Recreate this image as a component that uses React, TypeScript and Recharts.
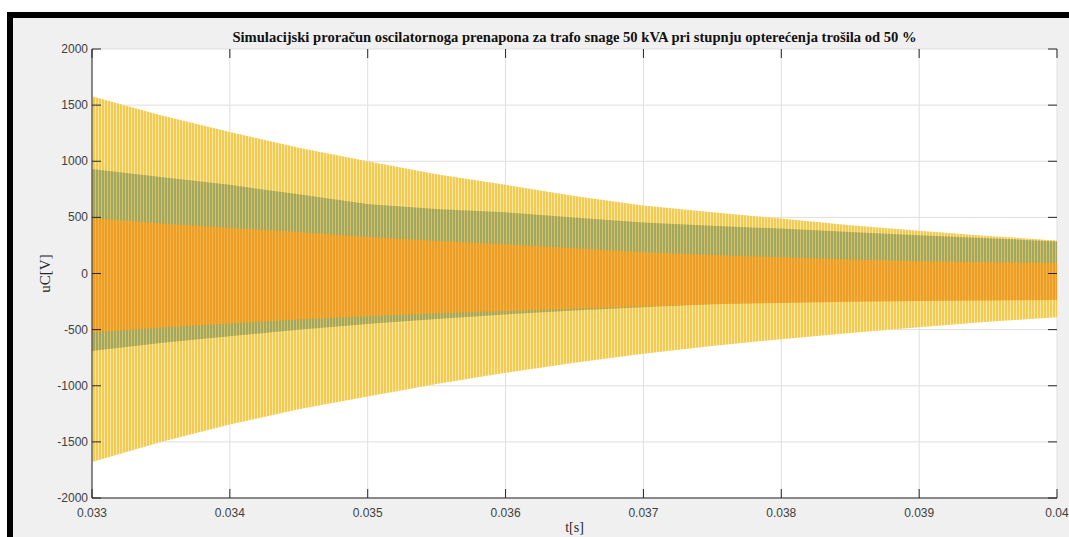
import React from "react";
import { ComposedChart, Area, XAxis, YAxis, CartesianGrid } from "recharts";

const times = [0.033, 0.0335, 0.034, 0.0345, 0.035, 0.0355, 0.036, 0.0365, 0.037, 0.0375, 0.038, 0.0385, 0.039, 0.0395, 0.04];
const yellowHigh = [1580, 1410, 1260, 1120, 1000, 885, 790, 690, 605, 545, 490, 430, 380, 335, 295];
const yellowLow = [-1680, -1500, -1345, -1210, -1095, -985, -885, -795, -715, -645, -585, -530, -478, -430, -390];
const greenHigh = [930, 860, 790, 705, 620, 575, 545, 500, 455, 425, 400, 370, 340, 315, 285];
const greenLow = [-690, -620, -560, -500, -450, -405, -365, -330, -300, -272, -250, -230, -210, -195, -180];
const orangeHigh = [495, 445, 405, 370, 325, 290, 260, 225, 190, 165, 145, 125, 110, 100, 93];
const orangeLow = [-525, -480, -445, -410, -380, -355, -335, -315, -295, -275, -262, -252, -245, -240, -237];

const xTicks = [0.033, 0.034, 0.035, 0.036, 0.037, 0.038, 0.039, 0.04];
const xTickLabels = ["0.033", "0.034", "0.035", "0.036", "0.037", "0.038", "0.039", "0.04"];
const yTicks = [-2000, -1500, -1000, -500, 0, 500, 1000, 1500, 2000];
const yTickLabels = ["-2000", "-1500", "-1000", "-500", "0", "500", "1000", "1500", "2000"];

const title = "Simulacijski proračun oscilatornoga prenapona za trafo snage 50 kVA pri stupnju opterećenja trošila od 50 %";
const xLabel = "t[s]";
const yLabel = "uC[V]";

const data = times.map((t, i) => ({
  t,
  yellow: [yellowLow[i], yellowHigh[i]],
  green: [greenLow[i], greenHigh[i]],
  orange: [orangeLow[i], orangeHigh[i]],
}));

// plot-box geometry (layout)
const W = 1069;
const H = 537;
const PL = 92;
const PR = 1057;
const PT = 49;
const PB = 498;
const TICK = 9;

const AX = "#262626";
const tickFont = { fontFamily: "'Liberation Sans', Arial, sans-serif", fontSize: 12, fill: "#404040" };

const BottomTick = (props: any) => {
  const { x, payload } = props;
  const i = xTicks.indexOf(payload.value);
  return (
    <g>
      <line x1={x} y1={PB} x2={x} y2={PB - TICK} stroke={AX} strokeWidth={1} />
      <line x1={x} y1={PT} x2={x} y2={PT + TICK} stroke={AX} strokeWidth={1} />
      <text x={x} y={PB + 19} textAnchor="middle" {...tickFont}>
        {i >= 0 ? xTickLabels[i] : String(payload.value)}
      </text>
    </g>
  );
};

const LeftTick = (props: any) => {
  const { y, payload } = props;
  const i = yTicks.indexOf(payload.value);
  return (
    <g>
      <line x1={PL} y1={y} x2={PL + TICK} y2={y} stroke={AX} strokeWidth={1} />
      <line x1={PR} y1={y} x2={PR - TICK} y2={y} stroke={AX} strokeWidth={1} />
      <text x={PL - 4} y={y + 4} textAnchor="end" {...tickFont}>
        {i >= 0 ? yTickLabels[i] : String(payload.value)}
      </text>
    </g>
  );
};

export default function App() {
  return (
    <div style={{ position: "absolute", left: 0, top: 0, width: W, height: H, background: "#fff", overflow: "hidden" }}>
      <div
        style={{
          position: "absolute",
          left: 7,
          top: 12,
          right: -10,
          bottom: -10,
          background: "#f0f0f0",
          borderTop: "6px solid #000",
          borderLeft: "6px solid #000",
        }}
      />
      <div style={{ position: "absolute", left: 0, top: 0 }}>
        <ComposedChart width={W} height={H} data={data} margin={{ top: PT, right: W - PR, left: 0, bottom: H - PB - 30 }}>
          <defs>
            <pattern id="py" width="3" height="10" patternUnits="userSpaceOnUse">
              <rect x="0" y="0" width="3" height="10" fill="#fae6a6" />
              <rect x="0" y="0" width="2" height="10" fill="#f3cb50" />
            </pattern>
            <pattern id="pg" width="3" height="10" patternUnits="userSpaceOnUse">
              <rect x="0" y="0" width="3" height="10" fill="#d2c46a" />
              <rect x="0" y="0" width="2" height="10" fill="#a2a65e" />
            </pattern>
            <pattern id="po" width="3" height="10" patternUnits="userSpaceOnUse">
              <rect x="0" y="0" width="3" height="10" fill="#f3b346" />
              <rect x="0" y="0" width="2" height="10" fill="#ec9e26" />
            </pattern>
          </defs>
          <CartesianGrid stroke="#dfdfdf" fill="#ffffff" />
          <Area type="linear" dataKey="yellow" stroke="none" fill="url(#py)" fillOpacity={1} isAnimationActive={false} dot={false} activeDot={false} />
          <Area type="linear" dataKey="green" stroke="none" fill="url(#pg)" fillOpacity={1} isAnimationActive={false} dot={false} activeDot={false} />
          <Area type="linear" dataKey="orange" stroke="none" fill="url(#po)" fillOpacity={1} isAnimationActive={false} dot={false} activeDot={false} />
          <XAxis
            dataKey="t"
            type="number"
            domain={[0.033, 0.04]}
            ticks={xTicks}
            interval={0}
            height={30}
            tickLine={false}
            axisLine={{ stroke: AX }}
            tick={<BottomTick />}
            allowDataOverflow
          />
          <XAxis
            xAxisId="top"
            orientation="top"
            dataKey="t"
            type="number"
            domain={[0.033, 0.04]}
            ticks={xTicks}
            height={0}
            tickLine={false}
            axisLine={{ stroke: AX }}
            tick={false}
            allowDataOverflow
          />
          <YAxis
            type="number"
            domain={[-2000, 2000]}
            ticks={yTicks}
            interval={0}
            width={PL}
            tickLine={false}
            axisLine={{ stroke: AX }}
            tick={<LeftTick />}
            allowDataOverflow
          />
          <YAxis
            yAxisId="right"
            orientation="right"
            type="number"
            domain={[-2000, 2000]}
            ticks={yTicks}
            width={0}
            tickLine={false}
            axisLine={{ stroke: AX }}
            tick={false}
            allowDataOverflow
          />
          <text x={(PL + PR) / 2} y={42} textAnchor="middle" fontFamily="'Liberation Serif', 'Times New Roman', serif" fontWeight="bold" fontSize={14.6} fill="#111">
            {title}
          </text>
          <text x={(PL + PR) / 2} y={532} textAnchor="middle" fontFamily="'Liberation Serif', 'Times New Roman', serif" fontSize={14} fill={AX}>
            {xLabel}
          </text>
          <text x={0} y={0} transform={`translate(50, ${(PT + PB) / 2}) rotate(-90)`} textAnchor="middle" fontFamily="'Liberation Serif', 'Times New Roman', serif" fontSize={15} fill={AX}>
            {yLabel}
          </text>
        </ComposedChart>
      </div>
    </div>
  );
}
